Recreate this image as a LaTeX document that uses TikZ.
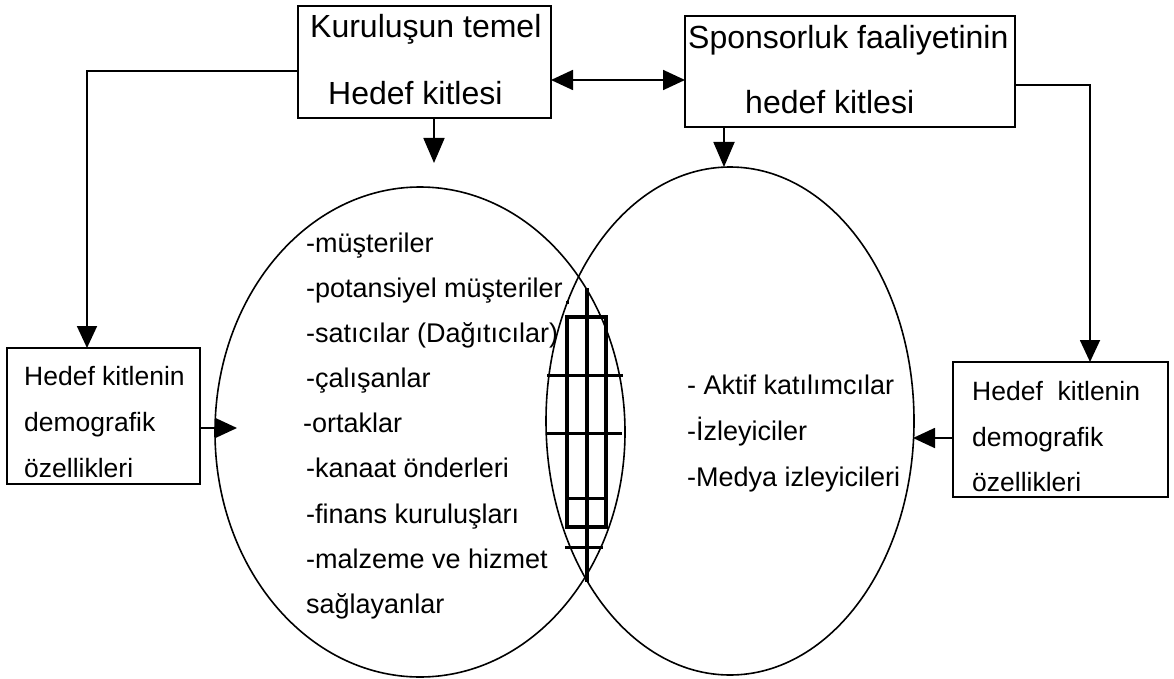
\documentclass[tikz,border=0pt]{standalone}
\usepackage{fontspec}
\setmainfont{Liberation Sans}
\usetikzlibrary{arrows.meta,shapes.geometric}
\begin{document}
\begin{tikzpicture}[x=1pt,y=-1pt,
  box/.style={draw,line width=1.8pt,rectangle,inner sep=0pt,outer sep=0pt},
  big/.style={font=\fontsize{32}{38}\selectfont,inner sep=0pt,anchor=base west},
  txt/.style={font=\fontsize{26.5}{32}\selectfont,inner sep=0pt,anchor=base west},
  ltxt/.style={font=\fontsize{27}{32}\selectfont,inner sep=0pt,anchor=base west},
  conn/.style={line width=1.8pt},
  arr/.style={conn,-{Triangle[length=22pt,width=20pt]}},
  arrb/.style={conn,{Triangle[length=22pt,width=20pt]}-{Triangle[length=22pt,width=20pt]}},
  arrt/.style={conn,-{Triangle[length=25pt,width=21pt]}},
  oval/.style={draw,ellipse,line width=1.6pt,inner sep=0pt,outer sep=0pt},
  hatch/.style={line width=3.8pt}]
\useasboundingbox (0,0) rectangle (1174,679);

% ellipses
\node[oval,minimum width=410pt,minimum height=490pt] (e1) at (420,432) {};
\node[oval,minimum width=368pt,minimum height=508pt] (e2) at (730,421) {};

% boxes
\node[box,minimum width=253pt,minimum height=112pt] (b1) at (424.5,62) {};
\node[box,minimum width=330pt,minimum height=111pt] (b2) at (850,71.5) {};
\node[box,minimum width=193pt,minimum height=136pt] (lb) at (103.5,416) {};
\node[box,minimum width=215pt,minimum height=135pt] (rb) at (1060.5,429.5) {};

% box texts
\node[big] (b1t1) at (310,38) {Kuruluşun temel};
\node[big] (b1t2) at (328,105) {Hedef kitlesi};
\node[big] (b2t1) at (688,49) {Sponsorluk faaliyetinin};
\node[big] (b2t2) at (745,114) {hedef kitlesi};

\node[txt] (lbt1) at (24,385) {Hedef kitlenin};
\node[txt] (lbt2) at (24,431) {demografik};
\node[txt] (lbt3) at (24,477) {özellikleri};

\node[txt] (rbt1) at (972,400) {Hedef\ \ kitlenin};
\node[txt] (rbt2) at (972,446) {demografik};
\node[txt] (rbt3) at (972,491) {özellikleri};

% left ellipse list
\node[ltxt] (l1) at (306,252) {-müşteriler};
\node[ltxt] (l2) at (306,297) {-potansiyel müşteriler};
\node[ltxt] (l3) at (306,342) {-satıcılar (Dağıtıcılar)};
\node[ltxt] (l4) at (306,387) {-çalışanlar};
\node[ltxt] (l5) at (303,432) {-ortaklar};
\node[ltxt] (l6) at (306,477) {-kanaat önderleri};
\node[ltxt] (l7) at (306,523) {-finans kuruluşları};
\node[ltxt] (l8) at (306,568) {-malzeme ve hizmet};
\node[ltxt] (l9) at (306,613) {sağlayanlar};

% right ellipse list
\node[ltxt] (r1) at (687,394) {- Aktif katılımcılar};
\node[ltxt] (r2) at (687,440) {-İzleyiciler};
\node[ltxt] (r3) at (687,486) {-Medya izleyicileri};

% coordinates
\coordinate (cl) at (87,71);
\coordinate (cr) at (1090,85);
\coordinate (t1) at (434,163);
\coordinate (t2) at (724,167);
\coordinate (ya) at (0,80);
\coordinate (yl) at (237,428);
\coordinate (yr) at (913,438);

% connectors
\draw[arrb] (b1.east |- ya) -- (b2.west |- ya);
\draw[arr] (b1.west |- cl) -- (cl) -- (lb.north -| cl);
\draw[arr] (b2.east |- cr) -- (cr) -- (rb.north -| cr);
\draw[arrt] (b1.south -| t1) -- (t1);
\draw[arrt] (b2.south -| t2) -- (t2);
\draw[arr] (lb.east |- yl) -- (yl);
\draw[arr] (rb.west |- yr) -- (yr);

% hatching in the overlap
\draw[hatch] (587,288) -- (587,582);
\draw[hatch] (567,317) rectangle (606,527);
\draw[line width=3pt] (547,375) -- (623,375);
\draw[line width=3pt] (547,433) -- (622,433);
\draw[line width=3pt] (567,498) -- (606,498);
\draw[line width=3pt] (565,547) -- (603,547);
\fill (565.5,300.5) rectangle (568.5,303.5);
\end{tikzpicture}
\end{document}
